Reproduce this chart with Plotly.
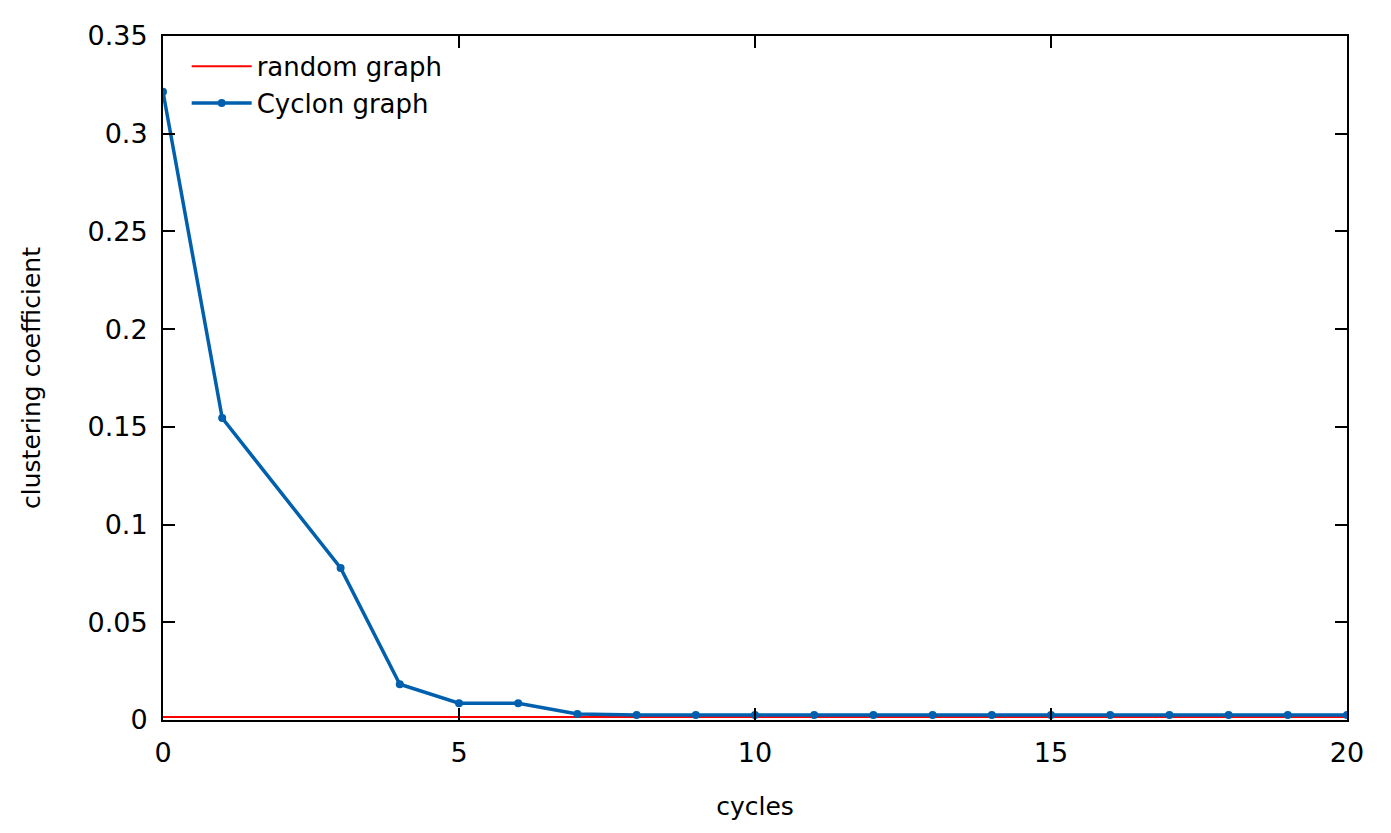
import plotly.graph_objects as go

cycles = [0, 1, 3, 4, 5, 6, 7, 8, 9, 10, 11, 12, 13, 14, 15, 16, 17, 18, 19, 20]
cyclon_cc = [0.3215, 0.1545, 0.0778, 0.0183, 0.0086, 0.0086, 0.0031, 0.0026, 0.0026, 0.0026,
             0.0026, 0.0026, 0.0026, 0.0026, 0.0026, 0.0026, 0.0025, 0.0025, 0.0026, 0.0026]
random_x = [0, 20]
random_cc = [0.0015, 0.0015]

fig = go.Figure()
fig.add_trace(go.Scatter(x=random_x, y=random_cc, mode='lines', name='random graph',
                         line=dict(color='#ff0000', width=2)))
fig.add_trace(go.Scatter(x=cycles, y=cyclon_cc, mode='lines+markers', name='Cyclon graph',
                         line=dict(color='#0060ad', width=3.5), marker=dict(size=8, color='#0060ad')))

axis = dict(showline=True, linecolor='black', linewidth=2, mirror='ticks', ticks='inside',
            ticklen=12, tickwidth=1.5, tickcolor='black', showgrid=False, zeroline=False,
            tickfont=dict(size=27), ticklabelstandoff=8)
fig.update_layout(
    width=1391, height=833, plot_bgcolor='white', paper_bgcolor='white',
    font=dict(family='DejaVu Sans', size=25, color='black'),
    margin=dict(l=155, r=52, t=23, b=121),
    xaxis=dict(axis, range=[0, 20], dtick=5,
               title=dict(text='cycles', standoff=30, font=dict(size=25))),
    yaxis=dict(axis, range=[0, 0.35], dtick=0.05, tickformat='~g',
               title=dict(text='clustering coefficient', standoff=40, font=dict(size=25))),
    legend=dict(x=0.02, y=0.99, xanchor='left', yanchor='top', bgcolor='rgba(0,0,0,0)',
                font=dict(size=26), itemwidth=60),
    showlegend=True,
)
fig.write_html('out.html')
